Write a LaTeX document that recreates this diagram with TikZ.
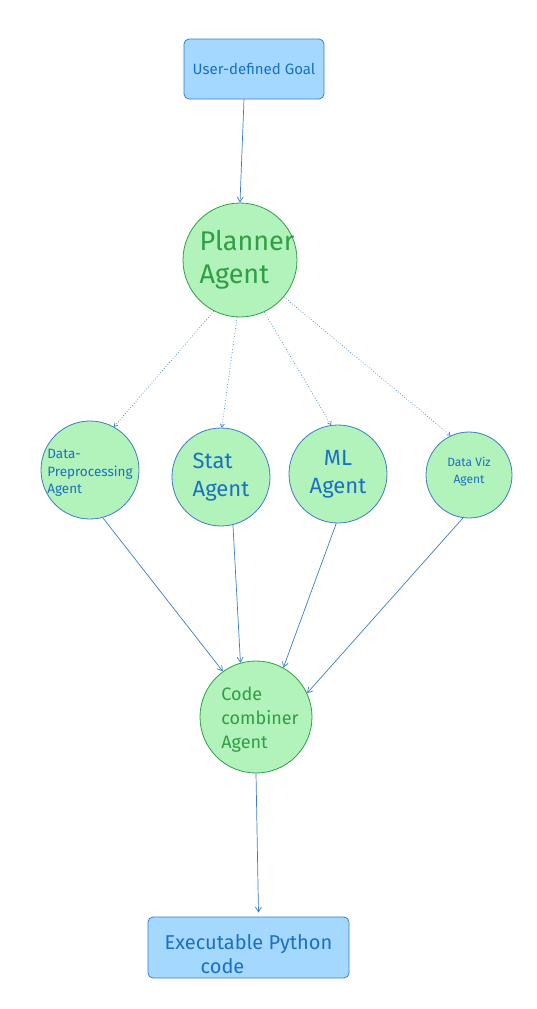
\documentclass[tikz,border=0pt]{standalone}
\usepackage{fontspec}
\setmainfont{Fira Sans}
\usetikzlibrary{arrows.meta}
\definecolor{bfill}{HTML}{A5D8FF}
\definecolor{bdraw}{HTML}{3C7DC4}
\definecolor{btext}{HTML}{1971C2}
\definecolor{gfill}{HTML}{B2F2BB}
\definecolor{gdraw}{HTML}{2F9E44}
\definecolor{gtext}{HTML}{2F9E44}
\tikzset{
  goalbox/.style={draw=bdraw, fill=bfill, rounded corners=5pt, line width=0.8pt, text=btext, inner sep=0pt},
  greencirc/.style={circle, draw=gdraw, fill=gfill, line width=0.8pt, text=gtext, inner sep=0pt, align=center},
  bluecirc/.style={circle, draw=bdraw, fill=gfill, line width=0.8pt, text=btext, inner sep=0pt, align=center},
  inlabel/.style={inner sep=0pt, align=left},
  conn/.style={draw=bdraw, line width=0.7pt, -{Straight Barb[length=5pt,width=6pt]}},
  dconn/.style={conn, dotted, -{Straight Barb[length=3pt,width=4pt]}}
}
\begin{document}
\begin{tikzpicture}[x=1pt,y=-1pt]
\useasboundingbox (0,0) rectangle (536,1009);
\node[goalbox, minimum width=140pt, minimum height=60pt, font=\fontsize{15}{18}\selectfont] (goal) at (254,69) {User-defined Goal};
\node[greencirc, minimum size=114pt, label={[inlabel, text=gtext, font=\fontsize{27}{33}\selectfont, xshift=7pt]center:{Planner\\Agent}}] (plan) at (240,260) {};
\node[bluecirc, minimum size=98pt, label={[inlabel, text=btext, font=\fontsize{13.5}{17.5}\selectfont, yshift=-3pt]center:{Data-\\Preprocessing\\Agent}}] (dp) at (90,470) {};
\node[bluecirc, minimum size=98pt, font=\fontsize{22}{28}\selectfont, align=left] (stat) at (221,477) {Stat\\Agent};
\node[bluecirc, minimum size=98pt, font=\fontsize{22}{28}\selectfont] (ml) at (338,474) {ML\\Agent};
\node[bluecirc, minimum size=86pt, font=\fontsize{12}{17}\selectfont] (viz) at (469,475) {Data Viz\\Agent\\[-8pt]};
\node[greencirc, minimum size=112pt, label={[inlabel, text=gtext, font=\fontsize{18}{24}\selectfont, xshift=4pt, yshift=-3pt]center:{Code\\combiner\\Agent}}] (code) at (256,717) {};
\node[goalbox, minimum width=201pt, minimum height=61pt, font=\fontsize{20}{24}\selectfont, align=left] (exec) at (248.5,947.5) {\rule{0pt}{28pt}Executable Python\\\hspace*{1.8em}code};
\draw[conn] ([xshift=-10pt]goal.south) -- (plan.north);
\draw[dconn] (plan.243) -- (dp.61);
\draw[dconn] (plan.267) -- (stat.89);
\draw[dconn] (plan.295) -- (ml.98);
\draw[dconn] (plan.320) -- (viz.115);
\draw[conn] (dp.285) -- (code.126);
\draw[conn] (stat.284) -- (code.106);
\draw[conn] (ml.268) -- (code.61);
\draw[conn] (viz.262) -- (code.25);
\draw[conn] (code.south) -- ([xshift=10pt,yshift=4pt]exec.north);
\end{tikzpicture}
\end{document}
